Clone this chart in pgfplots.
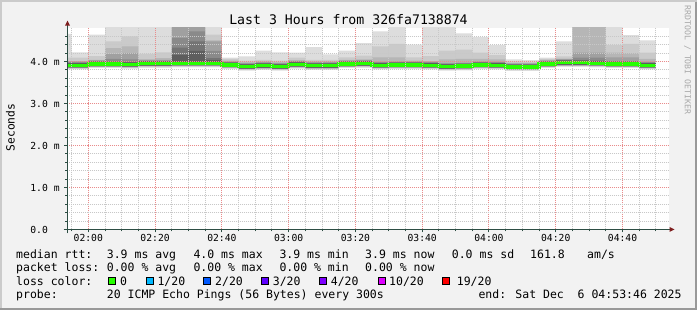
\documentclass[border=0pt]{standalone}
\usepackage{pgfplots}
\pgfplotsset{compat=1.18}
\usepackage{pgfplotstable}
\usepackage{fontspec}
\setmainfont{DejaVu Sans Mono}
\newfontfamily\mono{DejaVu Sans Mono}
\definecolor{bgc}{HTML}{F2F2F2}
\definecolor{shA}{HTML}{CBCBCB}
\definecolor{shB}{HTML}{999999}
\definecolor{mgrid}{HTML}{E98C8C}
\definecolor{mingrid}{HTML}{C8C8C8}
\definecolor{axiscol}{HTML}{2C4D43}
\definecolor{arrowcol}{HTML}{7F1F1F}
\definecolor{sc1}{HTML}{DDDDDD}
\definecolor{sc2}{HTML}{CACACA}
\definecolor{sc3}{HTML}{B6B6B6}
\definecolor{sc4}{HTML}{A0A0A0}
\definecolor{sc5}{HTML}{8A8A8A}
\definecolor{sc6}{HTML}{747474}
\definecolor{sc7}{HTML}{5E5E5E}
\definecolor{lc0}{HTML}{26FF00}
\definecolor{lc1}{HTML}{00B8FF}
\definecolor{lc2}{HTML}{0059FF}
\definecolor{lc3}{HTML}{5E00FF}
\definecolor{lc4}{HTML}{7E00FF}
\definecolor{lc10}{HTML}{DD00FF}
\definecolor{lc19}{HTML}{FF0000}
\definecolor{wm}{HTML}{A8A8A8}

\pgfplotstableread{
t t1 t2 t3 t4 t5 t6 t7 med bA bB bC bW
113.7667 4.66 4.09 4.01 4.00 3.98 3.97 3.96 3.91 3.86 3.85 3.835 3.81
115 4.22 4.09 4.01 4.00 3.98 3.97 3.96 3.91 3.86 3.85 3.835 3.81
120 4.64 4.13 4.04 4.03 4.01 4.00 3.99 3.94 3.89 3.88 3.865 3.84
125 5 4.48 4.32 4.18 4.06 4.00 3.99 3.94 3.89 3.88 3.865 3.84
130 5 4.60 4.36 4.20 4.05 3.99 3.98 3.93 3.88 3.87 3.855 3.83
135 5 4.18 4.05 4.04 4.02 4.01 4.00 3.95 3.90 3.89 3.875 3.85
140 5 4.22 4.08 4.04 4.02 4.01 4.00 3.95 3.90 3.89 3.875 3.85
145 5 5 5 5 4.56 4.33 4.15 3.96 3.91 3.90 3.885 3.86
150 5 5 5 5 4.72 4.48 4.25 3.96 3.91 3.90 3.885 3.86
155 5 4.64 4.50 4.48 4.25 4.08 4.03 3.96 3.91 3.90 3.885 3.86
160 4.09 4.06 4.02 4.00 3.99 3.98 3.97 3.92 3.87 3.86 3.845 3.82
165 4.12 4.02 3.98 3.965 3.95 3.94 3.93 3.88 3.83 3.82 3.805 3.78
170 4.26 4.04 4.00 3.985 3.97 3.96 3.95 3.90 3.85 3.84 3.825 3.80
175 4.22 4.02 3.98 3.965 3.95 3.94 3.93 3.88 3.83 3.82 3.805 3.78
180 4.21 4.09 4.03 4.015 4.00 3.99 3.98 3.93 3.88 3.87 3.855 3.83
185 4.34 4.04 4.00 3.985 3.97 3.96 3.95 3.90 3.85 3.84 3.825 3.80
190 4.17 4.04 4.00 3.985 3.97 3.96 3.95 3.90 3.85 3.84 3.825 3.80
195 4.26 4.10 4.04 4.025 4.01 4.00 3.99 3.94 3.89 3.88 3.865 3.84
200 4.44 4.14 4.05 4.035 4.02 4.01 4.00 3.95 3.90 3.89 3.875 3.85
205 4.72 4.36 4.10 3.995 3.98 3.97 3.96 3.91 3.86 3.85 3.835 3.81
210 5 4.42 4.10 4.005 3.99 3.98 3.97 3.92 3.87 3.86 3.845 3.82
215 4.40 4.10 4.02 4.005 3.99 3.98 3.97 3.92 3.87 3.86 3.845 3.82
220 5 4.13 4.01 3.995 3.98 3.97 3.96 3.91 3.86 3.85 3.835 3.81
225 5 4.26 4.05 3.965 3.95 3.94 3.93 3.88 3.83 3.82 3.805 3.78
230 4.67 4.28 4.06 3.975 3.96 3.95 3.94 3.89 3.84 3.83 3.815 3.79
235 4.58 4.21 4.06 4.005 3.99 3.98 3.97 3.92 3.87 3.86 3.845 3.82
240 4.39 4.15 4.05 3.995 3.98 3.97 3.96 3.91 3.86 3.85 3.835 3.81
245 4.05 4.00 3.97 3.955 3.94 3.93 3.92 3.87 3.82 3.81 3.795 3.77
250 4.03 3.99 3.97 3.955 3.94 3.93 3.92 3.87 3.82 3.81 3.795 3.77
255 4.09 4.06 4.04 4.025 4.01 4.00 3.99 3.94 3.89 3.88 3.865 3.84
260 4.48 4.12 4.07 4.055 4.04 4.03 4.02 3.97 3.92 3.91 3.895 3.87
265 5 5 5 4.21 4.09 4.03 4.02 3.97 3.92 3.91 3.895 3.87
270 5 5 5 4.21 4.09 4.02 4.01 3.96 3.91 3.90 3.885 3.86
275 5 4.39 4.21 4.10 4.01 4.00 3.99 3.94 3.89 3.88 3.865 3.84
280 4.63 4.42 4.20 4.10 4.01 4.00 3.99 3.94 3.89 3.88 3.865 3.84
285 4.50 4.21 4.06 3.995 3.98 3.97 3.96 3.91 3.86 3.85 3.835 3.81
290 4.50 4.21 4.06 3.995 3.98 3.97 3.96 3.91 3.86 3.85 3.835 3.81
}\smoke

\begin{document}
\begin{tikzpicture}
\begin{scope}[x=1pt,y=1pt]
\fill[bgc] (0,0) rectangle (697,310);
\fill[shA] (0,308) rectangle (697,310);
\fill[shA] (0,0) rectangle (2,310);
\fill[shB] (0,0) rectangle (697,2);
\fill[shB] (695,0) rectangle (697,308);
\end{scope}
\begin{axis}[
  at={(67.5pt,80.5pt)}, anchor=south west,
  scale only axis, width=601pt, height=201.6pt,
  xmin=113.7667, xmax=293.7667, ymin=0, ymax=4.8,
  axis on top,
  axis line style={draw=none},
  axis background/.style={fill=white},
  xtick={120,140,...,280},
  xticklabels={02:00,02:20,02:40,03:00,03:20,03:40,04:00,04:20,04:40},
  minor xtick={115,125,130,135,145,150,155,165,170,175,185,190,195,205,210,215,225,230,235,245,250,255,265,270,275,285,290},
  ytick={0,1,2,3,4},
  yticklabels={0.0\hphantom{~m},1.0~m,2.0~m,3.0~m,4.0~m},
  minor ytick={0.2,0.4,0.6,0.8,1.2,1.4,1.6,1.8,2.2,2.4,2.6,2.8,3.2,3.4,3.6,3.8,4.2,4.4,4.6},
  grid=both,
  major grid style={draw=mgrid, line width=1pt, dash pattern=on 1pt off 1pt},
  minor grid style={draw=mingrid, line width=1pt, dash pattern=on 1pt off 1pt},
  tick pos=left,
  tick align=outside,
  major tick length=3pt, minor tick length=2pt,
  tick style={draw=axiscol, line width=1pt},
  xticklabel style={font=\mono\fontsize{9.7}{11}\selectfont, inner sep=0pt, anchor=north, yshift=-2pt},
  yticklabel style={font=\mono\fontsize{9.7}{11}\selectfont, inner sep=0pt, anchor=east, xshift=-4.7pt},
]
\addplot[const plot, draw=none, fill=sc1] table[x=t,y=t1]{\smoke} \closedcycle;
\addplot[const plot, draw=none, fill=sc2] table[x=t,y=t2]{\smoke} \closedcycle;
\addplot[const plot, draw=none, fill=sc3] table[x=t,y=t3]{\smoke} \closedcycle;
\addplot[const plot, draw=none, fill=sc4] table[x=t,y=t4]{\smoke} \closedcycle;
\addplot[const plot, draw=none, fill=sc5] table[x=t,y=t5]{\smoke} \closedcycle;
\addplot[const plot, draw=none, fill=sc6] table[x=t,y=t6]{\smoke} \closedcycle;
\addplot[const plot, draw=none, fill=sc7] table[x=t,y=t7]{\smoke} \closedcycle;
\addplot[const plot, draw=none, fill=sc5] table[x=t,y=bA]{\smoke} \closedcycle;
\addplot[const plot, draw=none, fill=sc3] table[x=t,y=bB]{\smoke} \closedcycle;
\addplot[const plot, draw=none, fill=sc1] table[x=t,y=bC]{\smoke} \closedcycle;
\addplot[const plot, draw=none, fill=white] table[x=t,y=bW]{\smoke} \closedcycle;
\addplot[const plot, draw=lc0, line width=3.3pt] table[x=t,y=med]{\smoke};
\end{axis}
\begin{scope}[x=1pt,y=1pt]
% axis lines and arrows
\draw[axiscol, line width=1pt] (63.5,80.5) -- (671.5,80.5);
\draw[axiscol, line width=1pt] (67.5,76.5) -- (67.5,286);
\fill[arrowcol] (674.5,80.5) -- (669.5,83) -- (669.5,78) -- cycle;
\fill[arrowcol] (67.5,289.3) -- (65,284.3) -- (70,284.3) -- cycle;
% title, unit, watermark
\node[font=\mono\fontsize{13.2}{15}\selectfont, inner sep=0pt] at (348.5,290) {Last 3 Hours from 326fa7138874};
\node[font=\mono\fontsize{11.3}{13}\selectfont, inner sep=0pt, rotate=90] at (10.5,182.5) {Seconds};
\node[font=\mono\fontsize{8.2}{10}\selectfont, inner sep=0pt, rotate=-90, text=wm] at (687.5,250) {RRDTOOL / TOBI OETIKER};
% legend
\begin{scope}[every node/.style={font=\mono\fontsize{11.5}{13}\selectfont, inner sep=0pt, anchor=base west}]
\node at (16,51.5) {median rtt:};
\node at (106.7,51.5) {3.9 ms avg};
\node at (193.3,51.5) {4.0 ms max};
\node at (279.3,51.5) {3.9 ms min};
\node at (365,51.5) {3.9 ms now};
\node at (451.7,51.5) {0.0 ms sd};
\node at (530,51.5) {161.8};
\node at (587,51.5) {am/s};
\node at (16,38) {packet loss:};
\node at (106.7,38) {0.00 \% avg};
\node at (193.3,38) {0.00 \% max};
\node at (279.3,38) {0.00 \% min};
\node at (365,38) {0.00 \% now};
\node at (16,24.5) {loss color:};
\node at (120,24.5) {0};
\node at (157.3,24.5) {1/20};
\node at (215,24.5) {2/20};
\node at (272.7,24.5) {3/20};
\node at (330.7,24.5) {4/20};
\node at (389,24.5) {10/20};
\node at (456.7,24.5) {19/20};
\node at (16,11) {probe:};
\node at (106.7,11) {20 ICMP Echo Pings (56 Bytes) every 300s};
\node at (478.3,11) {end: Sat Dec~~6 04:53:46 2025};
\end{scope}
\filldraw[fill=lc0, draw=black, line width=1pt] (108.5,25) rectangle (115.5,32);
\filldraw[fill=lc1, draw=black, line width=1pt] (146,25) rectangle (153,32);
\filldraw[fill=lc2, draw=black, line width=1pt] (203.5,25) rectangle (210.5,32);
\filldraw[fill=lc3, draw=black, line width=1pt] (261.3,25) rectangle (268.3,32);
\filldraw[fill=lc4, draw=black, line width=1pt] (319.5,25) rectangle (326.5,32);
\filldraw[fill=lc10, draw=black, line width=1pt] (378,25) rectangle (385,32);
\filldraw[fill=lc19, draw=black, line width=1pt] (442.5,25) rectangle (449.5,32);
\end{scope}
\pgfresetboundingbox
\path (0pt,0pt) rectangle (697pt,310pt);
\end{tikzpicture}
\end{document}
